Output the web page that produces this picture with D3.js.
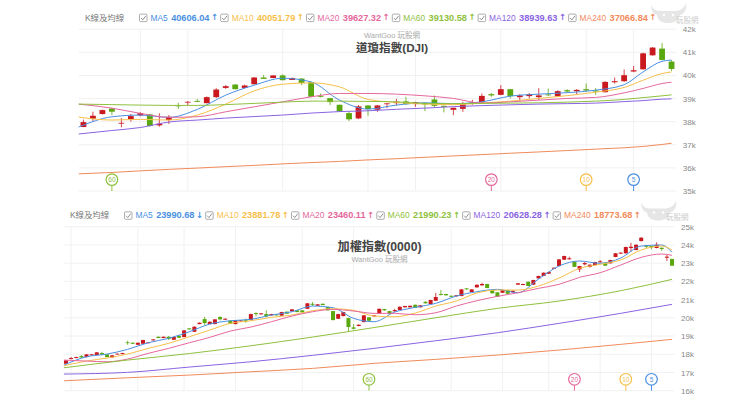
<!DOCTYPE html>
<html>
<head>
<meta charset="utf-8">
<script src="https://cdn.jsdelivr.net/npm/d3@7"></script>
<style>
  html, body { margin: 0; padding: 0; background: #fff; }
  svg { display: block; font-family: "Liberation Sans", "Noto Sans CJK TC", sans-serif; }
</style>
</head>
<body>
<div id="chart"></div>
<script>
/*
two candlestick panels with moving averages (DJI on top, TAIEX below)
*/

var maNames = ["MA5", "MA10", "MA20", "MA60", "MA120", "MA240"];
var maPeriods = [5, 10, 20, 60, 120, 240];
var maColors = ["#4a90e2", "#f7c04a", "#e5689c", "#8fc13e", "#8a64e2", "#f28b5c"];

var djiLegend = ["40606.04", "40051.79", "39627.32", "39130.58", "38939.63", "37066.84"];
var djiArrows = ["↑", "↑", "↑", "↑", "↑", "↑"];
var twLegend = ["23990.68", "23881.78", "23460.11", "21990.23", "20628.28", "18773.68"];
var twArrows = ["↓", "↑", "↑", "↑", "↑", "↑"];

// open, close, high, low per trading day
var djiOhlc = [
  [37770,37980,38090,37760],[38125,38255,38430,38000],[38330,38500,38520,38310],[38570,38430,38590,38285],
  [37930,37950,38155,37755],[38110,38240,38330,38000],[38270,38370,38410,38230],[38315,37810,38330,37800],
  [37840,37910,38360,37780],[38070,38210,38285,37900],[38700,38670,38815,38555],[38830,38860,38890,38715],
  [38900,38860,38985,38845],[38800,39060,39090,38790],[39060,39390,39450,39020],[39460,39535,39580,39420],
  [39605,39405,39625,39395],[39460,39565,39600,39450],[39620,39910,39930,39610],[39910,39850,40020,39845],
  [39890,40000,40010,39880],[40000,39795,40050,39780],[39805,39890,39910,39800],[39865,39675,39880,39580],
  [39705,39075,39720,39060],[39115,39075,39220,39050],[39015,38845,39025,38715],[38730,38445,38740,38435],
  [38370,38100,38425,38025],[38140,38660,38715,38110],[38700,38545,38715,38255],[38515,38700,38715,38425],
  [38760,38790,38800,38585],[38800,38860,38985,38705],[38875,38760,39075,38745],[38760,38845,38860,38640],
  [38815,38745,38830,38455],[38960,38685,39135,38615],[38685,38640,38700,38400],[38515,38600,38610,38285],
  [38555,38745,38860,38425],[38770,38830,38945,38730],[38830,39115,39220,38815],[39190,39135,39245,39075],
  [39160,39405,39580,39145],[39405,39105,39420,39005],[39060,39135,39190,38900],[39105,39190,39235,39005],
  [39060,39135,39450,38930],[39175,39150,39435,39105],[39090,39320,39360,39075],[39360,39305,39405,39245],
  [39320,39375,39405,39190],[39405,39350,39650,39290],[39350,39305,39460,39160],[39275,39720,39750,39260],
  [39705,39750,39910,39650],[39750,40010,40255,39720],[40170,40225,40410,40140],[40265,40955,40985,40255],
  [40870,41205,41230,40860],[41160,40670,41400,40655],[40600,40280,40655,40195]
];

var twOhlc = [
  [17480,17665,17680,17470],[17735,17790,17850,17725],[17790,17845,17870,17780],[17900,17830,17955,17790],
  [17845,17995,18010,17830],[17940,17995,18010,17930],[17955,18105,18120,17945],[18065,17995,18135,17955],
  [17995,17845,18005,17835],[17830,17940,17950,17820],[17995,18030,18045,17985],[18010,18065,18085,18000],
  [18655,18615,18740,18520],[18630,18575,18650,18560],[18520,18630,18645,18510],[18575,18780,18795,18565],
  [18615,18650,18670,18600],[18760,18815,18830,18750],[18960,18890,18975,18880],[18890,18960,18975,18880],
  [18960,18850,19000,18780],[18795,18945,18960,18785],[19015,18905,19030,18895],[18945,19310,19330,18930],
  [19420,19365,19435,19355],[19235,19510,19530,19220],[19655,19730,19745,19645],[19930,19710,20060,19585],
  [19655,19785,19800,19645],[19655,19915,19930,19645],[20040,19915,20095,19860],[19895,19950,19965,19885],
  [19840,19675,19855,19665],[19655,19860,19875,19645],[19805,19860,19875,19795],[19860,19805,19950,19730],
  [19875,20205,20225,19865],[20260,20205,20300,20080],[20190,20245,20260,20180],[20205,20080,20410,20025],
  [20135,20205,20220,20125],[20190,20135,20205,20125],[20115,20315,20330,20100],[20335,20225,20350,20215],
  [20355,20465,20480,20345],[20410,20315,20425,20305],[20410,20300,20425,20290],[20495,20795,20815,20480],
  [20770,20715,20865,20645],[20660,20740,20755,20650],[20770,20700,20785,20690],[20590,20410,20605,20400],
  [20370,19875,20385,19865],[19950,20205,20220,19935],[20095,20315,20330,20085],[19985,19495,20000,19270],
  [19475,19400,19655,19365],[19550,19620,19635,19535],[19765,20135,20155,19750],[20025,19840,20040,19825],
  [20080,20135,20150,20070],[20225,20495,20510,20210],[20480,20410,20495,20400],[20370,20205,20385,20195],
  [20355,20425,20495,20345],[20425,20605,20625,20415],[20575,20645,20665,20565],[20575,20660,20675,20565],
  [20715,20550,20730,20540],[20575,20685,20700,20565],[20880,20795,20895,20785],[20755,20975,20990,20745],
  [20935,21140,21375,20925],[21305,21250,21525,21230],[21305,21235,21320,21225],[21210,21155,21225,21145],
  [21180,21235,21250,21170],[21195,21560,21580,21185],[21615,21560,21630,21550],[21415,21560,21575,21405],
  [21670,21815,21830,21660],[21780,21855,21925,21770],[21855,21635,21870,21625],[21510,21345,21525,21335],
  [21400,21155,21415,21145],[21375,21525,21540,21365],[21525,21320,21540,21310],[21400,21485,21500,21390],
  [21820,21895,21910,21810],[21800,21855,21870,21790],[21980,21745,21995,21735],[21820,22075,22090,21810],
  [22165,22295,22310,22155],[22295,22475,22490,22285],[22420,22510,22525,22410],[22690,22745,22765,22680],
  [22840,23205,23225,22825],[23190,23390,23410,23175],[23210,23265,23355,23200],[23090,22795,23105,22785],
  [22655,22840,22855,22510],[22935,23005,23060,22880],[22805,22915,22930,22755],[22895,23060,23075,22885],
  [23045,23100,23170,23030],[23025,22860,23040,22850],[22990,23170,23185,22980],[23340,23540,23555,23325],
  [23520,23575,23590,23510],[23540,23885,23905,23525],[23830,23900,24120,23630],[23720,24010,24030,23705],
  [24215,24395,24430,24180],[23980,23900,23995,23815],[23940,23870,23955,23760],[23830,24010,24145,23820],
  [23845,23775,23860,23665],[23300,23355,23445,23115],[23225,22860,23240,22850]
];

var djiMaDays = [-0.5,3,6,9,12,15,18,21,24,27,30,33,36,39,42,45,48,51,54,57,59,61,62];
var djiMa = [
  [37768,38211,38285,38186,38530,39147,39578,39879,39720,38931,38543,38716,38815,38780,38858,39104,39190,39254,39362,39599,40151,40612,40664],
  [38198,38069,38099,38069,38285,38759,39332,39621,39677,39504,38961,38832,38759,38737,38802,38888,39005,39125,39276,39479,39793,40082,40151],
  [38759,38586,38358,38186,38211,38427,38642,38858,39073,39220,39220,39190,39117,39005,38802,38858,38931,39005,39048,39246,39437,39651,39707],
  [38759,38737,38716,38703,38703,38737,38789,38845,38888,38888,38875,38858,38789,38780,38789,38802,38815,38845,38888,38961,39039,39117,39160],
  [37466,37617,37746,37983,38069,38155,38220,38285,38371,38436,38470,38535,38586,38651,38694,38729,38759,38780,38802,38867,38910,38974,38987],
  [35742,35802,35871,35936,35992,36052,36108,36173,36229,36280,36345,36397,36457,36518,36574,36634,36690,36750,36811,36871,36927,37013,37066]
];

var twFastDays = [-0.4,4,8,12,16,20,24,28,32,36,40,44,48,52,56,60,64,68,72,76,80,84,88,92,96,100,104,108,112,116,118];
var twSlowDays = [-0.4,12,24,36,48,60,72,84,96,108,118];
var twMa = [
  [17406,17862,18010,18268,18631,18872,19235,19657,19839,19915,20151,20333,20646,20552,19970,19784,20316,20574,20794,21195,21431,21562,21376,22128,22842,23116,22990,23281,23940,23995,23594],
  [17368,17626,17791,18010,18323,18598,18960,19328,19696,19839,20025,20151,20388,20497,20410,20097,20058,20261,20646,20920,21359,21524,21524,21744,22183,22715,22935,23171,23720,23940,23720],
  [17681,17626,17588,17736,18049,18323,18631,18927,19273,19493,19784,20097,20333,20464,20371,20245,20245,20168,20278,20646,20937,21178,21376,21617,21837,22221,22474,22897,23319,23500,23429],
  [17258,17681,18038,18466,18944,19465,20003,20519,20920,21486,22111],
  [16912,17006,17297,17588,17939,18323,18741,19180,19696,20245,20739],
  [16545,16709,16857,17039,17225,17500,17719,17956,18230,18543,18817]
];

// ticks and date gridlines
var djiTicks = [35000, 36000, 37000, 38000, 39000, 40000, 41000, 42000];
var twTicks = [16000, 17000, 18000, 19000, 20000, 21000, 22000, 23000, 24000, 25000];
var djiGridDays = [6, 11, 21, 30, 35, 44, 53, 58];
var twGridDays = [1, 14, 23, 33, 46, 56, 75, 85, 94, 104, 114];

var upColor = "#c9181e";
var downColor = "#5aa80f";

var svg = d3.select("#chart")
    .append("svg")
    .attr("width", 740)
    .attr("height", 396);

svg.append("rect").attr("width", 740).attr("height", 396).attr("fill", "#fff");

function drawPanel(p) {
  var x = d3.scaleLinear().domain([-0.5, p.ohlc.length - 0.5]).range([p.left, p.right]);
  var y = d3.scaleLinear().domain(p.yDomain).range([p.bottom, p.top]);
  var g = svg.append("g");

  // grid
  g.append("g").selectAll("line")
      .data(p.ticks)
    .enter().append("line")
      .attr("x1", p.left).attr("x2", p.right)
      .attr("y1", function(d) {return y(d);})
      .attr("y2", function(d) {return y(d);})
      .attr("stroke", "#f1f1f1");

  g.append("g").selectAll("line")
      .data(p.gridDays)
    .enter().append("line")
      .attr("x1", function(d) {return x(d);})
      .attr("x2", function(d) {return x(d);})
      .attr("y1", p.top).attr("y2", p.bottom)
      .attr("stroke", "#f1f1f1");

  // right axis
  var axis = g.append("g")
      .attr("transform", "translate(" + (p.right + p.axisGap) + ",0)")
      .call(d3.axisRight(y).tickValues(p.ticks).tickSize(0).tickPadding(0)
        .tickFormat(function(d) {return (d / 1000) + "k";}));
  axis.select(".domain").remove();
  axis.selectAll("text")
      .attr("fill", "#888")
      .style("font-size", "8px");

  // titles
  g.append("text")
      .attr("x", p.titleX).attr("y", p.titleY)
      .attr("text-anchor", "middle")
      .attr("fill", "#444")
      .style("font-size", p.titleSize + "px")
      .style("font-weight", "bold")
      .text(p.title);

  g.append("text")
      .attr("x", p.titleX).attr("y", p.subY)
      .attr("text-anchor", "middle")
      .attr("fill", "#aaa")
      .style("font-size", "7.5px")
      .text("WantGoo 玩股網");

  // candles
  var candle = g.append("g").selectAll("g")
      .data(p.ohlc)
    .enter().append("g")
      .attr("fill", function(d) {return d[1] >= d[0] ? upColor : downColor;})
      .attr("stroke", function(d) {return d[1] >= d[0] ? upColor : downColor;});

  candle.append("line")
      .attr("x1", function(d, i) {return x(i);})
      .attr("x2", function(d, i) {return x(i);})
      .attr("y1", function(d) {return y(d[2]);})
      .attr("y2", function(d) {return y(d[3]);})
      .attr("stroke-width", 0.8);

  candle.append("rect")
      .attr("x", function(d, i) {return x(i) - p.bodyWidth / 2;})
      .attr("width", p.bodyWidth)
      .attr("y", function(d) {return y(Math.max(d[0], d[1]));})
      .attr("height", function(d) {return Math.max(0.8, Math.abs(y(d[0]) - y(d[1])));})
      .attr("stroke", "none");

  // moving averages
  p.ma.forEach(function(values, m) {
    var days = p.maDays[m];
    var line = d3.line()
        .x(function(d, i) {return x(days[i]);})
        .y(function(d) {return y(d);})
        .curve(d3.curveMonotoneX);

    g.append("path")
        .attr("d", line(values))
        .attr("fill", "none")
        .attr("stroke", maColors[m])
        .attr("stroke-width", 1);
  });

  // period pins at the bottom of the plot
  var last = p.ohlc.length - 1;
  p.pins.forEach(function(m) {
    var px = x(last - maPeriods[m] + 1);
    var pin = g.append("g");
    pin.append("line")
        .attr("x1", px).attr("x2", px)
        .attr("y1", p.bottom - 5.5).attr("y2", p.bottom)
        .attr("stroke", maColors[m]);
    pin.append("circle")
        .attr("cx", px).attr("cy", p.bottom - 11.4)
        .attr("r", 5.8)
        .attr("fill", "#fff")
        .attr("stroke", maColors[m])
        .attr("stroke-width", 1.2);
    pin.append("text")
        .attr("x", px).attr("y", p.bottom - 8.9)
        .attr("text-anchor", "middle")
        .attr("fill", maColors[m])
        .style("font-size", "6.5px")
        .text(maPeriods[m]);
  });

  drawLegend(p);
  drawLogo(p.logoX, p.logoY);
}

// header row, laid out from the measured text widths
function drawLegend(p) {
  var g = svg.append("g");
  var cy = p.legendY;

  g.append("text")
      .attr("x", p.legendTitleX).attr("y", cy + 3)
      .attr("fill", "#777")
      .style("font-size", "8.4px")
      .text("K線及均線");

  var cx = p.legendStartX;
  maNames.forEach(function(name, m) {
    g.append("rect")
        .attr("x", cx + 0.5).attr("y", cy - 3.6)
        .attr("width", 7.5).attr("height", 7.5)
        .attr("rx", 1)
        .attr("fill", "#fff")
        .attr("stroke", "#999")
        .attr("stroke-width", 0.8);
    g.append("path")
        .attr("d", "M" + (cx + 2) + "," + (cy + 0.3) + "l1.8,1.9l3,-4")
        .attr("fill", "none")
        .attr("stroke", "#777")
        .attr("stroke-width", 0.8);

    var label = g.append("text")
        .attr("x", cx + 11.5).attr("y", cy + 3)
        .attr("fill", maColors[m])
        .style("font-size", "8.4px")
        .text(name);
    var vx = cx + 11.5 + label.node().getComputedTextLength() + 3.4;

    var value = g.append("text")
        .attr("x", vx).attr("y", cy + 3)
        .attr("fill", maColors[m])
        .style("font-size", "9.2px")
        .style("font-weight", "bold")
        .text(p.legend[m]);
    var ax = vx + value.node().getComputedTextLength() + 1.5;

    g.append("text")
        .attr("x", ax).attr("y", cy + 2.5)
        .attr("fill", maColors[m])
        .style("font-family", "DejaVu Sans")
        .style("font-size", "8.5px")
        .style("font-weight", "bold")
        .text(p.arrows[m]);

    cx = ax + 9.2;
  });
}

// faint watermark in the top right corner of each panel
function drawLogo(lx, ly) {
  var g = svg.append("g")
      .attr("transform", "translate(" + lx + "," + ly + ")");
  g.append("path")
      .attr("d", "M0,2 C2,7 6,8 10,8 L24,8 C28,8 33,6 35,0 C36,6 34,10 29,12 C28,18 23,20 17,20 C11,20 7,18 6,12 C2,11 0,7 0,2 Z")
      .attr("fill", "#e6e6e6");
  g.append("circle").attr("cx", 13).attr("cy", 12).attr("r", 1.2).attr("fill", "#fff");
  g.append("circle").attr("cx", 22).attr("cy", 12).attr("r", 1.2).attr("fill", "#fff");
  g.append("text")
      .attr("x", 25).attr("y", 19.5)
      .attr("fill", "#ccc")
      .style("font-size", "7.5px")
      .text("玩股網");
}

drawPanel({
  title: "道瓊指數(DJI)",
  titleX: 392, titleY: 51.5, titleSize: 11.6, subY: 37.7,
  ohlc: djiOhlc,
  ma: djiMa,
  maDays: [djiMaDays, djiMaDays, djiMaDays, djiMaDays, djiMaDays, djiMaDays],
  ticks: djiTicks,
  yDomain: [35000, 42000],
  gridDays: djiGridDays,
  left: 78.7, right: 676.3, top: 29.2, bottom: 191,
  axisGap: 6.5,
  bodyWidth: 5.8,
  pins: [3, 2, 1, 0],
  legend: djiLegend, arrows: djiArrows,
  legendTitleX: 85, legendStartX: 139, legendY: 17.7,
  logoX: 651, logoY: 3
});

drawPanel({
  title: "加權指數(0000)",
  titleX: 379.5, titleY: 250.5, titleSize: 12.2, subY: 261.8,
  ohlc: twOhlc,
  ma: twMa,
  maDays: [twFastDays, twFastDays, twFastDays, twSlowDays, twSlowDays, twSlowDays],
  ticks: twTicks,
  yDomain: [16000, 25000],
  gridDays: twGridDays,
  left: 63.4, right: 674.6, top: 226.7, bottom: 390.7,
  axisGap: 6.5,
  bodyWidth: 4,
  pins: [3, 2, 1, 0],
  legend: twLegend, arrows: twArrows,
  legendTitleX: 70, legendStartX: 124, legendY: 215.4,
  logoX: 641, logoY: 200.5
});
</script>
</body>
</html>
